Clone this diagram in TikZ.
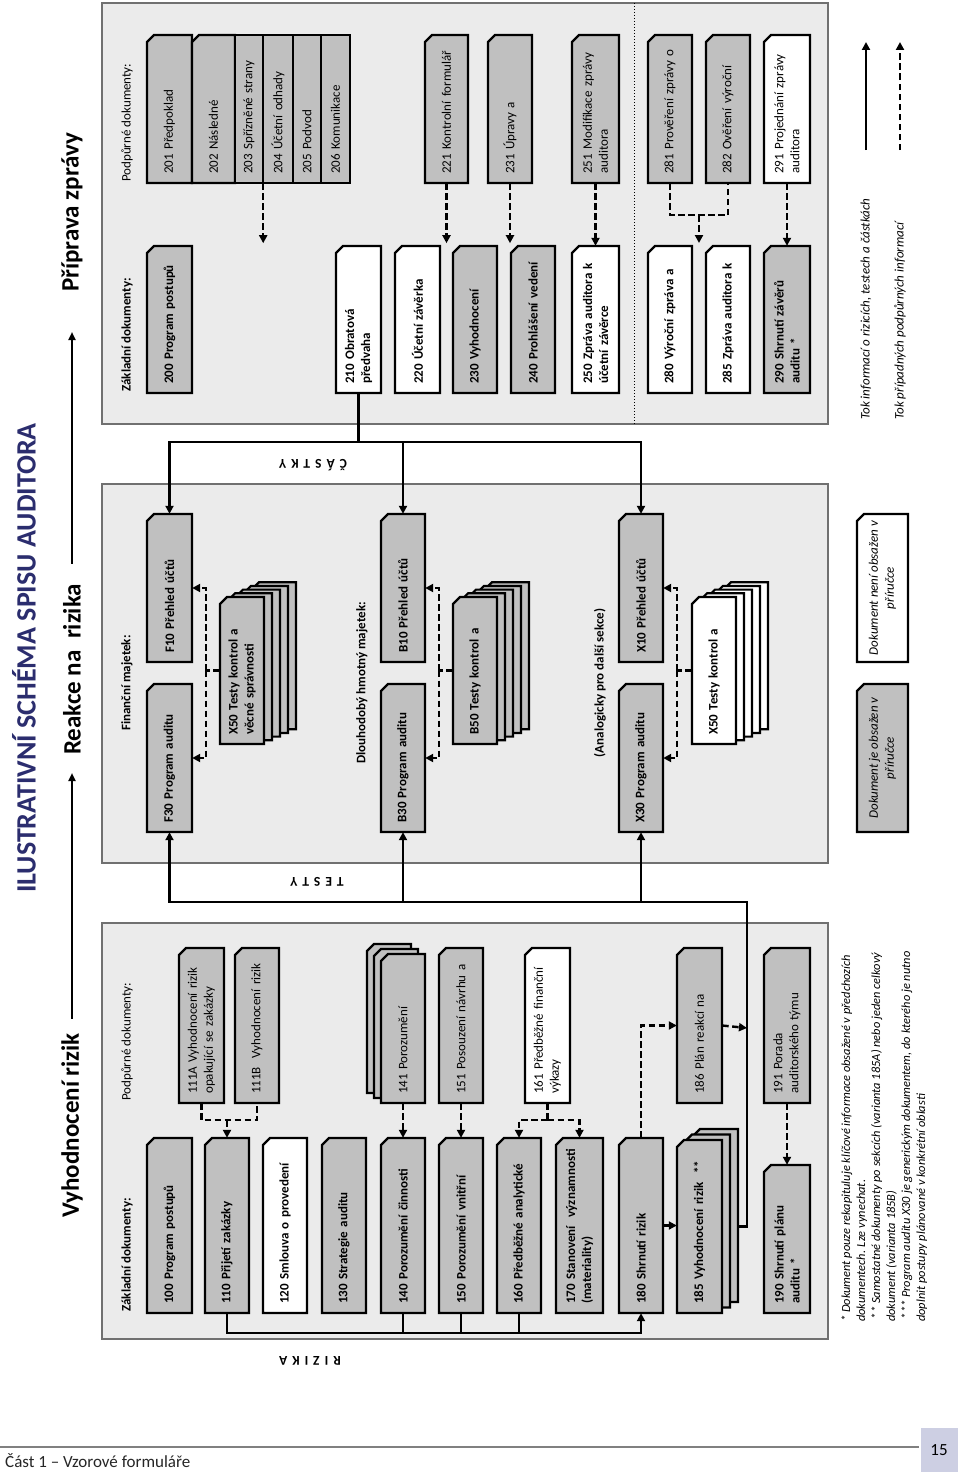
\documentclass[tikz,border=0pt]{standalone}
\usepackage{fontspec}
\setmainfont{Carlito}
\usetikzlibrary{arrows.meta}
\definecolor{panelgray}{HTML}{EBEBEB}
\definecolor{docgray}{HTML}{C0C0C0}
\definecolor{navy}{HTML}{2B2D6E}
\definecolor{pageblue}{HTML}{CDCFE3}
\definecolor{panelline}{HTML}{707070}
\newcommand\dfB{\fontsize{13}{16}\selectfont\bfseries}
\newcommand\dfR{\fontsize{13}{16}\selectfont}
\newcommand\dfI{\fontsize{13}{16}\selectfont\itshape}
\newcommand\dfN{\fontsize{12.4}{15}\selectfont\itshape}
\newcommand\dfH{\fontsize{25}{28}\selectfont\bfseries}
\newcommand\dfT{\fontsize{28}{32}\selectfont\bfseries}
\newcommand\dfS{\fontsize{13.5}{15}\selectfont\bfseries}
\tikzset{
  docshape/.style={draw=black, line width=2.2pt, line join=miter},
  doctext/.style={rotate=90, anchor=west, align=left, inner sep=0pt},
  lbl/.style={rotate=90, anchor=west, inner sep=0pt},
  panel/.style={draw=panelline, fill=panelgray, line width=1.3pt},
  flow/.style={line width=2.8pt, line join=miter},
  flowarrow/.style={flow, -{Triangle[length=8pt,width=8pt]}},
  dflow/.style={line width=2.4pt, dash pattern=on 6.5pt off 3.5pt},
  darrow/.style={dflow, -{Triangle[length=8pt,width=8pt]}},
  headarrow/.style={line width=2pt, -{Triangle[length=8pt,width=7pt]}},
  spaced/.style={rotate=180, font=\dfS},
}
% name, x1, y1, x2, y2, fill, font, text
\newcommand\docbox[8]{%
  \path[docshape, fill=#6] (#2,#3+7) -- (#2+7,#3) -- (#4,#3) -- (#4,#5) -- (#2,#5) -- cycle;
  \pgfmathsetmacro\dbw{#4-#2}\pgfmathsetmacro\dbh{#5-#3}\pgfmathsetmacro\dbt{#5-#3-18}%
  \pgfmathsetmacro\dbx{(#2+#4)/2}\pgfmathsetmacro\dby{(#3+#5)/2}%
  \node[inner sep=0pt, minimum width=\dbw pt, minimum height=\dbh pt] (#1) at (\dbx,\dby) {};
  \node[doctext, text width=\dbt pt, font=#7] at (\dbx,#5-9) {#8};
}
\newcommand\plainbox[8]{%
  \path[docshape, fill=#6] (#2,#3) rectangle (#4,#5);
  \pgfmathsetmacro\dbw{#4-#2}\pgfmathsetmacro\dbh{#5-#3}\pgfmathsetmacro\dbt{#5-#3-18}%
  \pgfmathsetmacro\dbx{(#2+#4)/2}\pgfmathsetmacro\dby{(#3+#5)/2}%
  \node[inner sep=0pt, minimum width=\dbw pt, minimum height=\dbh pt] (#1) at (\dbx,\dby) {};
  \node[doctext, text width=\dbt pt, font=#7] at (\dbx,#5-9) {#8};
}
\newcommand\legbox[7]{%
  \path[docshape, fill=#6] (#2,#3+7) -- (#2+7,#3) -- (#4,#3) -- (#4,#5) -- (#2,#5) -- cycle;
  \pgfmathsetmacro\dbx{(#2+#4)/2}\pgfmathsetmacro\dby{(#3+#5)/2}%
  \node[rotate=90, align=center, inner sep=0pt, font=\dfI] (#1) at (\dbx,\dby) {#7};
}
\newcommand\layer[5]{%
  \path[docshape, fill=#5] (#1,#2+7) -- (#1+7,#2) -- (#3,#2) -- (#3,#4) -- (#1,#4) -- cycle;
}
\begin{document}
\begin{tikzpicture}[x=1pt,y=-1pt]
\useasboundingbox (0,0) rectangle (960,1472);
\fill[white] (0,0) rectangle (960,1472);

% ---------- panels
\path[panel] (102,3) rectangle (828,424);
\path[panel] (102,484) rectangle (828,863);
\path[panel] (102,923) rectangle (828,1339);
\draw[dotted, line width=1pt] (634,3) -- (634,424);

% ---------- title and headings
\node[lbl, font=\dfT, text=navy] (title) at (24,893) {ILUSTRATIVNÍ SCHÉMA SPISU AUDITORA};
\node[lbl, font=\dfH] (hV) at (72,1218) {Vyhodnocení rizik};
\node[lbl, font=\dfH] (hR) at (72,755) {Reakce na\ \ rizika};
\node[lbl, font=\dfH] (hP) at (72,292) {Příprava zprávy};
\draw[headarrow, shorten <=14pt, shorten >=18pt] (hV.east) -- (hR.west);
\draw[headarrow, shorten <=20pt, shorten >=40pt] (hR.east) -- (hP.west);

% ---------- Příprava zprávy
\node[lbl, font=\dfB] (zdP) at (127,392) {Základní dokumenty:};
\node[lbl, font=\dfR] (pdP) at (127,182) {Podpůrné dokumenty:};
\docbox{n200}{147}{246}{192}{393}{docgray}{\dfB}{200 Program postupů}
\docbox{n210}{336}{246}{381}{393}{white}{\dfB}{210 Obratová\\předvaha}
\docbox{n220}{395}{246}{440}{393}{white}{\dfB}{220 Účetní závěrka}
\docbox{n230}{453}{246}{497}{393}{docgray}{\dfB}{230 Vyhodnocení}
\docbox{n240}{511}{246}{555}{393}{docgray}{\dfB}{240 Prohlášení vedení}
\docbox{n250}{572}{246}{619}{393}{white}{\dfB}{250 Zpráva auditora k\\účetní závěrce}
\docbox{n280}{648}{246}{692}{393}{white}{\dfB}{280 Výroční zpráva a}
\docbox{n285}{706}{246}{750}{393}{white}{\dfB}{285 Zpráva auditora k}
\docbox{n290}{764}{246}{810}{393}{docgray}{\dfB}{290 Shrnutí závěrů\\auditu *}

\docbox{n201}{147}{35}{192}{183}{docgray}{\dfR}{201 Předpoklad}
\docbox{n202}{192}{35}{235}{183}{docgray}{\dfR}{202 Následné}
\plainbox{n203}{235}{35}{263}{183}{docgray}{\dfR}{203 Spřízněné strany}
\plainbox{n204}{263}{35}{293}{183}{docgray}{\dfR}{204 Účetní odhady}
\plainbox{n205}{293}{35}{321}{183}{docgray}{\dfR}{205 Podvod}
\plainbox{n206}{321}{35}{350}{183}{docgray}{\dfR}{206 Komunikace}
\docbox{n221}{425}{35}{468}{183}{docgray}{\dfR}{221 Kontrolní formulář}
\docbox{n231}{488}{35}{532}{183}{docgray}{\dfR}{231 Úpravy a}
\docbox{n251}{572}{35}{619}{183}{docgray}{\dfR}{251 Modifikace zprávy\\auditora}
\docbox{n281}{648}{35}{692}{183}{docgray}{\dfR}{281 Prověření zprávy o}
\docbox{n282}{706}{35}{750}{183}{docgray}{\dfR}{282 Ověření výroční}
\docbox{n291}{764}{35}{810}{183}{white}{\dfR}{291 Projednání zprávy\\auditora}

\draw[darrow] (n203.south east) -- ++(0,60);
\draw[darrow] (n221.south) -- ++(0,60);
\draw[darrow] (n231.south) -- ++(0,60);
\draw[darrow] (n251.south) -- (n250.north);
\draw[dflow] (n281.south) -- ++(0,32) -| (n282.south);
\coordinate (j28) at (699,215);
\draw[darrow] (j28) -- ++(0,28);
\draw[darrow] (n291.south) -- (n290.north);

% ---------- Reakce na rizika
\node[rotate=90, inner sep=0pt, font=\dfB] (lF) at (127,683) {Finanční majetek:};
\node[rotate=90, inner sep=0pt, font=\dfB] (lB) at (362,683) {Dlouhodobý hmotný majetek:};
\node[rotate=90, inner sep=0pt, font=\dfB] (lX) at (600,683) {(Analogicky pro další sekce)};

\docbox{nF10}{147}{514}{192}{662}{docgray}{\dfB}{F10 Přehled účtů}
\docbox{nF30}{147}{684}{192}{832}{docgray}{\dfB}{F30 Program auditu}
\foreach \k in {4,3,2,1} {\layer{220+8*\k}{597-3.7*\k}{264+8*\k}{744-3.7*\k}{docgray}}
\docbox{nFX50}{220}{597}{264}{744}{docgray}{\dfB}{X50 Testy kontrol a\\věcné správnosti}

\docbox{nB10}{381}{514}{425}{662}{docgray}{\dfB}{B10 Přehled účtů}
\docbox{nB30}{381}{684}{425}{832}{docgray}{\dfB}{B30 Program auditu}
\foreach \k in {4,3,2,1} {\layer{453+8*\k}{597-3.7*\k}{497+8*\k}{744-3.7*\k}{docgray}}
\docbox{nB50}{453}{597}{497}{744}{docgray}{\dfB}{B50 Testy kontrol a}

\docbox{nX10}{619}{514}{663}{662}{docgray}{\dfB}{X10 Přehled účtů}
\docbox{nX30}{619}{684}{663}{832}{docgray}{\dfB}{X30 Program auditu}
\foreach \k in {4,3,2,1} {\layer{692+8*\k}{597-3.7*\k}{736+8*\k}{744-3.7*\k}{white}}
\docbox{nXX50}{692}{597}{736}{744}{white}{\dfB}{X50 Testy kontrol a}

\coordinate (bF) at (206,670.5);
\coordinate (bB) at (439,670.5);
\coordinate (bX) at (677,670.5);
\draw[dflow] (nFX50.west) -- (bF);
\draw[darrow] (bF) |- (nF10.east);
\draw[darrow] (bF) |- (nF30.east);
\draw[dflow] (nB50.west) -- (bB);
\draw[darrow] (bB) |- (nB10.east);
\draw[darrow] (bB) |- (nB30.east);
\draw[dflow] (nXX50.west) -- (bX);
\draw[darrow] (bX) |- (nX10.east);
\draw[darrow] (bX) |- (nX30.east);

% legend
\legbox{lg1}{857}{514}{908}{662}{white}{Dokument není obsažen v\\příručce}
\legbox{lg2}{857}{684}{908}{832}{docgray}{Dokument je obsažen v\\příručce}
\node[lbl, font=\dfI] (lt1) at (866,420) {Tok informací o rizicích, testech a částkách};
\node[lbl, font=\dfI] (lt2) at (900,420) {Tok případných podpůrných informací};
\coordinate (la1) at (866,150); \coordinate (la2) at (866,42);
\coordinate (lb1) at (900,150); \coordinate (lb2) at (900,42);
\draw[flowarrow] (la1) -- (la2);
\draw[darrow] (lb1) -- (lb2);

% ---------- Vyhodnocení rizik
\node[lbl, font=\dfB] (zdV) at (127,1312) {Základní dokumenty:};
\node[lbl, font=\dfR] (pdV) at (127,1101) {Podpůrné dokumenty:};
\docbox{n100}{147}{1138}{192}{1313}{docgray}{\dfB}{100 Program postupů}
\docbox{n110}{205}{1138}{249}{1313}{docgray}{\dfB}{110 Přijetí zakázky}
\docbox{n120}{263}{1138}{307}{1313}{white}{\dfB}{120 Smlouva o provedení}
\docbox{n130}{322}{1138}{366}{1313}{docgray}{\dfB}{130 Strategie auditu}
\docbox{n140}{381}{1138}{425}{1313}{docgray}{\dfB}{140 Porozumění činnosti}
\docbox{n150}{439}{1138}{483}{1313}{docgray}{\dfB}{150 Porozumění vnitřní}
\docbox{n160}{497}{1138}{541}{1313}{docgray}{\dfB}{160 Předběžné analytické}
\docbox{n170}{556}{1138}{603}{1313}{docgray}{\dfB}{170 Stanovení\ \ významnosti\\(materiality)}
\docbox{n180}{619}{1138}{663}{1313}{docgray}{\dfB}{180 Shrnutí rizik}
\foreach \k in {2,1} {\layer{677+8*\k}{1140-5.5*\k}{722+8*\k}{1313-5.5*\k}{docgray}}
\docbox{n185}{677}{1140}{722}{1313}{docgray}{\dfB}{185 Vyhodnocení rizik\ \ **}
\docbox{n190}{764}{1165}{810}{1313}{docgray}{\dfB}{190 Shrnutí plánu\\auditu *}

\docbox{n111A}{179}{948}{224}{1103}{docgray}{\dfR}{111A Vyhodnocení rizik\\opakující se zakázky}
\docbox{n111B}{235}{948}{279}{1103}{docgray}{\dfR}{111B\ \ Vyhodnocení rizik}
\foreach \k in {2,1} {\layer{381-7*\k}{954-5*\k}{425-7*\k}{1103-5*\k}{docgray}}
\docbox{n141}{381}{954}{425}{1103}{docgray}{\dfR}{141 Porozumění}
\docbox{n151}{439}{948}{483}{1103}{docgray}{\dfR}{151 Posouzení návrhu a}
\docbox{n161}{525}{948}{570}{1103}{white}{\dfR}{161 Předběžné finanční\\výkazy}
\docbox{n186}{677}{948}{722}{1103}{docgray}{\dfR}{186 Plán reakcí na}
\docbox{n191}{764}{948}{810}{1103}{docgray}{\dfR}{191 Porada\\auditorského týmu}

\draw[dflow] (n111A.south) -- ++(0,17) -| (n111B.south);
\coordinate (j111) at (227,1120);
\draw[darrow] (j111) -- (n110.north);
\draw[darrow] (n141.south) -- (n140.north);
\draw[darrow] (n151.south) -- (n150.north);
\coordinate (j161) at (547.5,1120);
\draw[dflow] (n161.south) -- (j161);
\draw[darrow] (j161) -| (n160.north);
\draw[darrow] (j161) -| (n170.north);
\draw[darrow] (n180.north) |- (n186.west);
\draw[darrow] (n191.south) -- (n190.north);
\draw[flowarrow] (n180.east) -- (n180.east -| n185.west);

% ---------- flows RIZIKA / TESTY / CASTKY
\coordinate (riz) at (641,1333);
\draw[flowarrow] (n110.south) |- (riz) -- (n180.south);
\draw[flow] (n140.south) -- (n140.south |- riz);
\draw[flow] (n150.south) -- (n150.south |- riz);
\draw[flow] (n160.south) -- (n160.south |- riz);
\node[spaced] (tRiz) at (310,1361) {R\hspace{5pt}I\hspace{5pt}Z\hspace{5pt}I\hspace{5pt}K\hspace{5pt}A};

\coordinate (n185r) at (738,1226.5);
\coordinate (testy) at (747,902);
\coordinate (testyR) at (747,1028);
\draw[darrow] (n186.east) -- (testyR);
\draw[flowarrow] (n185r) -| (testy) -| (nF30.south);
\draw[flowarrow] (testy) -| (nB30.south);
\draw[flowarrow] (testy) -| (nX30.south);
\node[spaced] (tTesty) at (317,882) {T\hspace{5pt}E\hspace{5pt}S\hspace{5pt}T\hspace{5pt}Y};

\coordinate (castky) at (358.5,442);
\draw[flow] (n210.south) -- (castky);
\draw[flowarrow] (castky) -| (nF10.north);
\draw[flowarrow] (castky) -| (nB10.north);
\draw[flowarrow] (castky) -| (nX10.north);
\node[spaced] (tCastky) at (313,465) {Č\hspace{5pt}Á\hspace{5pt}S\hspace{5pt}T\hspace{5pt}K\hspace{5pt}Y};

% ---------- footnotes
\node[rotate=90, anchor=north west, align=left, inner sep=0pt, font=\dfN] (fn) at (841,1322)
 {* Dokument pouze rekapituluje klíčové informace obsažené v předchozích\\
  dokumentech. Lze vynechat.\\{}
  ** Samostatné dokumenty po sekcích (varianta 185A) nebo jeden celkový\\
  dokument (varianta 185B)\\{}
  *** Program auditu X30 je generickým dokumentem, do kterého je nutno\\
  doplnit postupy plánované v konkrétní oblasti};

% ---------- page footer
\draw[gray, line width=1.3pt] (0,1447) -- (919,1447);
\node[anchor=base west, inner sep=0pt, font=\fontsize{17}{20}\selectfont, text=black!85] (foot) at (5,1467) {Část 1 – Vzorové formuláře};
\node[fill=pageblue, minimum width=37pt, minimum height=44pt, inner sep=0pt, font=\fontsize{17}{20}\selectfont] (pnum) at (939,1450) {15};
\end{tikzpicture}
\end{document}
